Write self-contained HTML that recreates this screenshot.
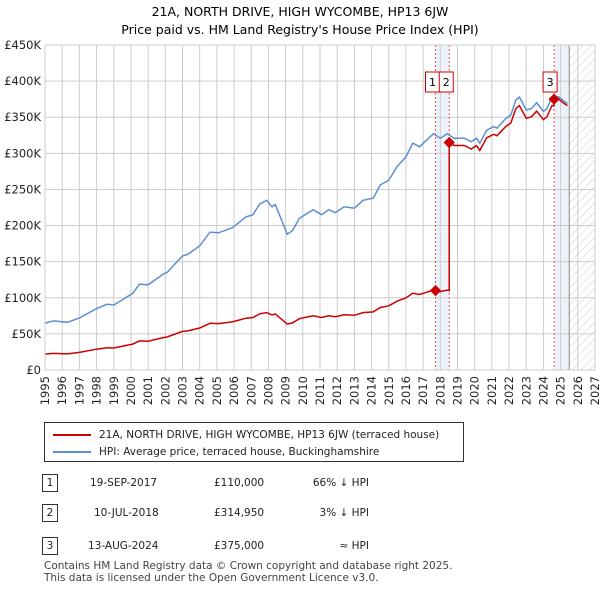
<!DOCTYPE html>
<html><head><meta charset="utf-8"><style>
body{margin:0;background:#fff;font-family:"DejaVu Sans","Liberation Sans",sans-serif;color:#222}
#wrap{position:relative;width:600px;height:590px;overflow:hidden}
</style></head><body><div id="wrap">
<svg id="chart" width="600" height="590" style="position:absolute;left:0;top:0" font-family="DejaVu Sans, Liberation Sans, sans-serif">
<defs><pattern id="hatch" width="6" height="6" patternUnits="userSpaceOnUse" patternTransform="rotate(45)"><line x1="0" y1="0" x2="0" y2="6" stroke="#ccc" stroke-width="1"/></pattern></defs>
<text x="300" y="16" text-anchor="middle" font-size="12.5">21A, NORTH DRIVE, HIGH WYCOMBE, HP13 6JW</text>
<text x="300" y="34" text-anchor="middle" font-size="12.5">Price paid vs. HM Land Registry's House Price Index (HPI)</text>
<g id="plot"></g>
</svg>
<div style="position:absolute;left:44px;top:422px;width:420px;height:40px;border:1px solid #333;box-sizing:border-box;font-size:10.5px">
 <div style="position:absolute;left:8px;top:6px"><span style="display:inline-block;width:38px;height:2px;background:#c00;vertical-align:middle;margin-right:8px"></span>21A, NORTH DRIVE, HIGH WYCOMBE, HP13 6JW (terraced house)</div>
 <div style="position:absolute;left:8px;top:23px"><span style="display:inline-block;width:38px;height:2px;background:#5b8fd4;vertical-align:middle;margin-right:8px"></span>HPI: Average price, terraced house, Buckinghamshire</div>
</div>
<div id="table" style="font-size:10.5px"></div>
<div style="position:absolute;left:44px;top:560px;font-size:10.5px;color:#444;line-height:12px">Contains HM Land Registry data © Crown copyright and database right 2025.<br>This data is licensed under the Open Government Licence v3.0.</div>
</div>
<script>
const hpiYears=[1995,1995.5,1996.3,1997,1998,1998.6,1999,2000.1,2000.5,2001,2001.9,2002.1,2003,2003.3,2004,2004.6,2005.1,2005.9,2006.7,2007.1,2007.5,2007.9,2008.2,2008.4,2009.1,2009.4,2009.8,2010.6,2011.1,2011.5,2011.9,2012.4,2013,2013.5,2014.1,2014.5,2015,2015.5,2016,2016.4,2016.8,2017.1,2017.6,2018,2018.4,2018.8,2019.4,2019.8,2020.1,2020.3,2020.7,2021.1,2021.3,2021.8,2022.1,2022.4,2022.6,2023,2023.3,2023.6,2024,2024.2,2024.5,2024.9,2025.2,2025.4];
const hpiValues=[65,68,66,72,85,91,90,106,119,118,133,135,158,160,172,191,190,197,212,215,230,235,226,229,188,193,210,222,215,222,218,226,224,235,238,256,263,282,295,314,309,316,327,321,327,321,321,316,321,314,332,337,335,348,353,374,378,360,362,370,358,362,378,378,372,369];
const saleDates=[2017.72,2018.52,2024.62];
const salePrices=[110,314.95,375];
const saleLabels=["19-SEP-2017","10-JUL-2018","13-AUG-2024"];
const salePriceText=["£110,000","£314,950","£375,000"];
const saleHpiText=["66% ↓ HPI","3% ↓ HPI","≈ HPI"];
const yTicks=[0,50,100,150,200,250,300,350,400,450];
const yTickLabels=["£0","£50K","£100K","£150K","£200K","£250K","£300K","£350K","£400K","£450K"];
const xTicks=[1995,1996,1997,1998,1999,2000,2001,2002,2003,2004,2005,2006,2007,2008,2009,2010,2011,2012,2013,2014,2015,2016,2017,2018,2019,2020,2021,2022,2023,2024,2025,2026,2027];
const dataEnd=2025.5;

const L=45,R=595,T=45,B=370,x0=1995,x1=2027,ymax=450;
const X=y=>L+(y-x0)/(x1-x0)*(R-L);
const Y=v=>B-v/ymax*(B-T);
const NS="http://www.w3.org/2000/svg";
const g=document.getElementById('plot');
function mk(t,a,p){const e=document.createElementNS(NS,t);for(const k in a)e.setAttribute(k,a[k]);(p||g).appendChild(e);return e;}
function hpiAt(t){for(let i=0;i<hpiYears.length-1;i++){if(t<=hpiYears[i+1]){const f=(t-hpiYears[i])/(hpiYears[i+1]-hpiYears[i]);return hpiValues[i]+f*(hpiValues[i+1]-hpiValues[i]);}}return hpiValues[hpiValues.length-1];}

let e=mk('rect',{x:X(saleDates[0]),y:T,width:X(saleDates[1])-X(saleDates[0]),height:B-T,fill:'#eef3fb'});

e=mk('rect',{x:X(saleDates[2]),y:T,width:X(dataEnd)-X(saleDates[2]),height:B-T,fill:'#eef3fb'});

e=mk('rect',{x:X(dataEnd),y:T,width:R-X(dataEnd),height:B-T,fill:'url(#hatch)'});

yTicks.forEach((v,i)=>{
 const l=mk('line',{x1:L,x2:R,y1:Y(v),y2:Y(v),stroke:'#ccc'});
 
 const t=mk('text',{x:L-4,y:Y(v)+4,'text-anchor':'end','font-size':11.5,fill:'#222'});t.textContent=yTickLabels[i];
 
});
xTicks.forEach(yr=>{
 const l=mk('line',{x1:X(yr),x2:X(yr),y1:T,y2:B,stroke:'#ccc'});
 
 const t=mk('text',{x:0,y:0,'text-anchor':'end','font-size':11.5,fill:'#222',transform:`translate(${X(yr)+4},${B+6}) rotate(-90)`});t.textContent=yr;
 
});
e=mk('line',{x1:X(dataEnd),x2:X(dataEnd),y1:T,y2:B,stroke:'#888'});

saleDates.forEach(d=>{const l=mk('line',{x1:X(d),x2:X(d),y1:T,y2:B,stroke:'#e55','stroke-dasharray':'2,2'});
 });
let pts=hpiYears.map((t,i)=>X(t).toFixed(1)+','+Y(hpiValues[i]).toFixed(1)).join(' ');
e=mk('polyline',{points:pts,fill:'none',stroke:'#5b8fd4','stroke-width':1.5});

let rp=[];
function ratioAt(t){let k=0;for(let i=0;i<saleDates.length;i++)if(t>=saleDates[i])k=i;return salePrices[k]/hpiAt(saleDates[k]);}
const ts=[...hpiYears,...saleDates,...saleDates.map(d=>d-0.001)].sort((a,b)=>a-b);
ts.forEach(t=>{if(t<=hpiYears[hpiYears.length-1])rp.push(X(t).toFixed(1)+','+Y(hpiAt(t)*ratioAt(t)).toFixed(1));});
e=mk('polyline',{points:rp.join(' '),fill:'none',stroke:'#c00','stroke-width':1.5});

saleDates.forEach((d,i)=>{
 const c=mk('rect',{x:X(d)-4,y:Y(salePrices[i])-4,width:8,height:8,fill:'#c00',transform:`rotate(45 ${X(d)} ${Y(salePrices[i])})`});
 
 const bx=i==0?X(d)-10:(i==1?X(d)-10:X(d)-11);
 const b=mk('rect',{x:bx,y:72,width:14,height:20,fill:'#fff',stroke:'#c00'});
 
 const t=mk('text',{x:bx+7,y:86,'text-anchor':'middle','font-size':11});t.textContent=i+1;
 
});
e=mk('rect',{x:L,y:T,width:R-L,height:B-T,fill:'none',stroke:'#ccc'});

const tb=document.getElementById('table');
const rowsY=[474,504,537];
saleDates.forEach((d,i)=>{
 const r=document.createElement('div');
 
 
 r.style.cssText=`position:absolute;left:0;top:${rowsY[i]}px;width:600px;height:18px`;
 r.innerHTML=`<span style="position:absolute;left:42px;top:0;width:14px;height:16px;border:1px solid #333;text-align:center;line-height:16px">${i+1}</span><span style="position:absolute;left:${i==0?90:i==1?94:88}px;top:3px">${saleLabels[i]}</span><span style="position:absolute;left:214px;top:3px">${salePriceText[i]}</span><span style="position:absolute;right:231px;top:3px">${saleHpiText[i]}</span>`;
 tb.appendChild(r);
});
</script>
</body></html>
